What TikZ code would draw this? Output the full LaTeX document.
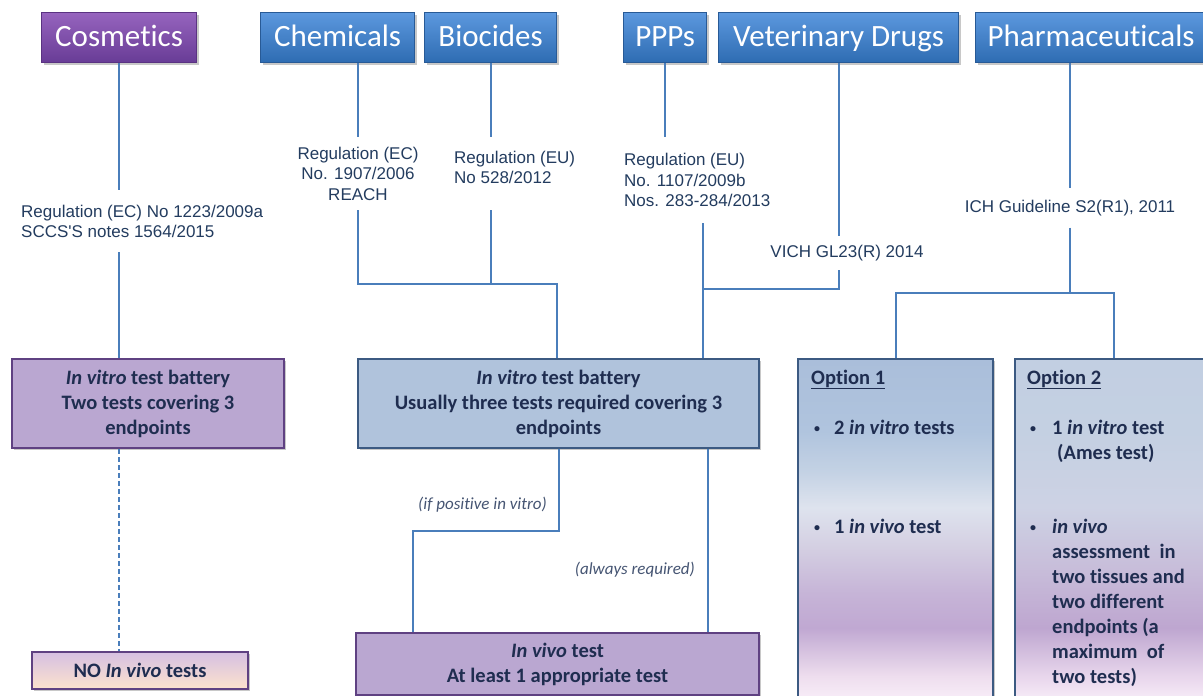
\documentclass[tikz,border=0pt]{standalone}
\usepackage{fontspec}
\setmainfont{Carlito}[Ligatures={TeX,NoCommon}]
\newfontfamily\arialf{Liberation Sans}
\usetikzlibrary{shadows}
\definecolor{lineblue}{RGB}{74,126,187}
\definecolor{navy}{RGB}{31,45,80}
\definecolor{regtext}{RGB}{35,60,95}
\definecolor{labtext}{RGB}{70,85,115}
\definecolor{toptop}{RGB}{92,152,222}
\definecolor{topbot}{RGB}{46,108,178}
\definecolor{topborder}{RGB}{40,90,150}
\definecolor{costop}{RGB}{150,100,190}
\definecolor{cosbot}{RGB}{104,60,150}
\definecolor{cosborder}{RGB}{90,50,130}
\definecolor{purpfill}{RGB}{186,167,209}
\definecolor{purpborder}{RGB}{95,65,130}
\definecolor{bluefill}{RGB}{176,195,220}
\definecolor{blueborder}{RGB}{60,90,130}
\definecolor{nobtop}{RGB}{214,192,226}
\definecolor{nobbot}{RGB}{252,226,205}
% option 1 gradient
\definecolor{oa1}{RGB}{250,240,250}
\definecolor{oa2}{RGB}{238,222,238}
\definecolor{oa3}{RGB}{192,168,210}
\definecolor{oa4}{RGB}{198,180,215}
\definecolor{oa5}{RGB}{212,207,226}
\definecolor{oa6}{RGB}{222,227,238}
\definecolor{oa7}{RGB}{196,210,228}
\definecolor{oa8}{RGB}{176,196,222}
\definecolor{oa9}{RGB}{170,190,218}
% option 2 gradient
\definecolor{ob1}{RGB}{250,240,250}
\definecolor{ob2}{RGB}{232,214,236}
\definecolor{ob3}{RGB}{190,166,208}
\definecolor{ob4}{RGB}{200,190,218}
\definecolor{ob5}{RGB}{205,210,228}
\definecolor{ob6}{RGB}{196,208,226}
\definecolor{ob7}{RGB}{194,207,226}
\pgfdeclareverticalshading{optone}{100bp}{color(0bp)=(oa1); color(25bp)=(oa1); color(29bp)=(oa2); color(36bp)=(oa3); color(41bp)=(oa4); color(47.7bp)=(oa5); color(53.5bp)=(oa6); color(58.6bp)=(oa7); color(64.5bp)=(oa8); color(75bp)=(oa9); color(100bp)=(oa9)}
\pgfdeclareverticalshading{opttwo}{100bp}{color(0bp)=(ob1); color(25bp)=(ob1); color(29bp)=(ob2); color(36bp)=(ob3); color(45bp)=(ob4); color(53.5bp)=(ob5); color(64.5bp)=(ob6); color(75bp)=(ob7); color(100bp)=(ob7)}
\tikzset{
  conn/.style={draw=lineblue, line width=2pt},
  shad/.style={drop shadow={shadow xshift=2pt, shadow yshift=-2pt, opacity=0.3, fill=black!70}},
  topbox/.style={draw=topborder, line width=1.2pt, top color=toptop, bottom color=topbot,
    text=white, font=\fontsize{31}{36}\selectfont, text height=21pt, text depth=4pt,
    inner sep=0pt, minimum height=50pt, anchor=north west, shad},
  cosbox/.style={topbox, draw=cosborder, top color=costop, bottom color=cosbot},
  reg/.style={font=\arialf\fontsize{17}{20.5}\selectfont, text=regtext, inner sep=0pt},
  bbox/.style={line width=2pt, inner sep=0pt, anchor=north west, align=center,
    font=\bfseries\fontsize{20.5}{25}\selectfont, text=navy, shad},
  purplebox/.style={bbox, draw=purpborder, fill=purpfill},
  bluebox/.style={bbox, draw=blueborder, fill=bluefill},
  optbox/.style={line width=2pt, draw=blueborder, inner sep=0pt, anchor=north west, shade, shad},
  lab/.style={font=\itshape\fontsize{17}{20}\selectfont, text=labtext, inner sep=0pt, anchor=east},
  opt/.style={font=\bfseries\fontsize{20.5}{25}\selectfont, text=navy, inner sep=0pt, anchor=base west},
}
\newcommand{\bul}[1]{\makebox[#1][l]{\hspace{3pt}\raisebox{1.5pt}{\fontsize{12}{12}\selectfont\textbullet}}}
\begin{document}
\begin{tikzpicture}[x=1pt,y=-1pt]
\useasboundingbox (0,0) rectangle (1203,696);
\clip (0,0) rectangle (1203,696);
\fill[white] (0,0) rectangle (1203,696);

% top boxes
\node[cosbox, minimum width=155pt] (cos) at (41,12) {Cosmetics};
\node[topbox, minimum width=154pt] (chem) at (260,12) {Chemicals};
\node[topbox, minimum width=132pt] (bio) at (424,12) {Biocides};
\node[topbox, minimum width=83pt] (ppp) at (623,12) {PPPs};
\node[topbox, minimum width=240pt] (vet) at (718,12) {Veterinary Drugs};
\node[topbox, minimum width=231pt] (pharma) at (975,12) {Pharmaceuticals};

% regulation texts
\node[reg, anchor=north west, minimum height=62pt, align=left] (cosreg) at (21,190)
  {Regulation (EC) No 1223/2009a\\SCCS\textquotesingle S notes 1564/2015};
\node[reg, anchor=north, minimum height=73pt, align=center] (chemreg) at (358,137)
  {Regulation (EC)\\No. 1907/2006\\REACH};
\node[reg, anchor=north west, minimum height=60pt, align=left] (bioreg) at (454,137)
  {Regulation (EU)\\No 528/2012};
\node[reg, anchor=north west, minimum height=86pt, align=left] (pppreg) at (624,137)
  {Regulation (EU)\\No. 1107/2009b\\Nos. 283-284/2013};
\node[reg, minimum height=34pt] (vetreg) at (847,253) {VICH GL23(R) 2014};
\node[reg, minimum height=39pt] (pharreg) at (1070,208) {ICH Guideline S2(R1), 2011};

% junctions
\coordinate (j1) at (557,284);
\coordinate (j2) at (703,289);
\coordinate (j3) at (1070,293);
\coordinate (j4) at (413,531);
\coordinate (j5) at (708,531);

% lower boxes
\node[purplebox, minimum width=272pt, minimum height=89pt] (box1) at (11,358)
  {\textit{In vitro} test battery\\Two tests covering 3\\endpoints};
\node[bbox, draw=purpborder, top color=nobtop, bottom color=nobbot, minimum width=216pt, minimum height=37pt] (nobox) at (31,651)
  {NO \textit{In vivo} tests};
\node[bluebox, minimum width=401pt, minimum height=89pt] (box2) at (357,358)
  {\textit{In vitro} test battery\\Usually three tests required covering 3\\endpoints};
\node[purplebox, minimum width=403pt, minimum height=62pt] (invivo) at (355,632)
  {\textit{In vivo} test\\At least 1 appropriate test};
\node[optbox, shading=optone, minimum width=195pt, minimum height=345pt] (opt1) at (797,358) {};
\node[optbox, shading=opttwo, minimum width=197pt, minimum height=345pt] (opt2) at (1014,358) {};

% option texts
\node[opt] (o1h) at (811,384) {\underline{Option 1}};
\node[opt] (o1a) at (811,434) {\bul{23pt}2 \textit{in vitro} tests};
\node[opt] (o1b) at (811,533) {\bul{23pt}1 \textit{in vivo} test};
\node[opt] (o2h) at (1027,384) {\underline{Option 2}};
\node[opt] (o2a) at (1027,434) {\bul{25pt}1 \textit{in vitro} test};
\node[opt] (o2a2) at (1057,459) {(Ames test)};
\node[opt] (o2b) at (1027,533) {\bul{25pt}\textit{in vivo}};
\node[opt] (o2b1) at (1052,558) {assessment\ \ in};
\node[opt] (o2b2) at (1052,583) {two tissues and};
\node[opt] (o2b3) at (1052,608) {two different};
\node[opt] (o2b4) at (1052,633) {endpoints (a};
\node[opt] (o2b5) at (1052,658) {maximum\ \ of};
\node[opt] (o2b6) at (1052,683) {two tests)};

% labels
\node[lab] (lab1) at (547,505) {(if positive in vitro)};
\node[lab] (lab2) at (695,570) {(always required)};

% connectors
\draw[conn] (cos.south) -- (cos.south |- cosreg.north);
\draw[conn] (cos.south |- cosreg.south) -- (cos.south |- box1.north);
\draw[conn, dash pattern=on 5pt off 3pt] (cos.south |- box1.south) -- (cos.south |- nobox.north);
\draw[conn] (chemreg.north |- chem.south) -- (chemreg.north);
\draw[conn] (chemreg.south) |- (j1) -- (j1 |- box2.north);
\draw[conn] (bio.south) -- (bio.south |- bioreg.north);
\draw[conn] (bio.south |- chemreg.south) -- (bio.south |- j1);
\draw[conn] (ppp.south) -- (ppp.south |- pppreg.north);
\draw[conn] (j2 |- pppreg.south) -- (j2 |- box2.north);
\draw[conn] (vet.south) -- (vet.south |- vetreg.north);
\draw[conn] (vet.south |- vetreg.south) |- (j2);
\draw[conn] (pharreg.north |- pharma.south) -- (pharreg.north);
\draw[conn] (pharreg.south) -- (j3);
\draw[conn] (opt1.north) -- (opt1.north |- j3) -- (opt2.north |- j3) -- (opt2.north);
\draw[conn] (box2.south) |- (j4) -- (j4 |- invivo.north);
\draw[conn] (j5 |- box2.south) -- (j5 |- invivo.north);
\end{tikzpicture}
\end{document}
